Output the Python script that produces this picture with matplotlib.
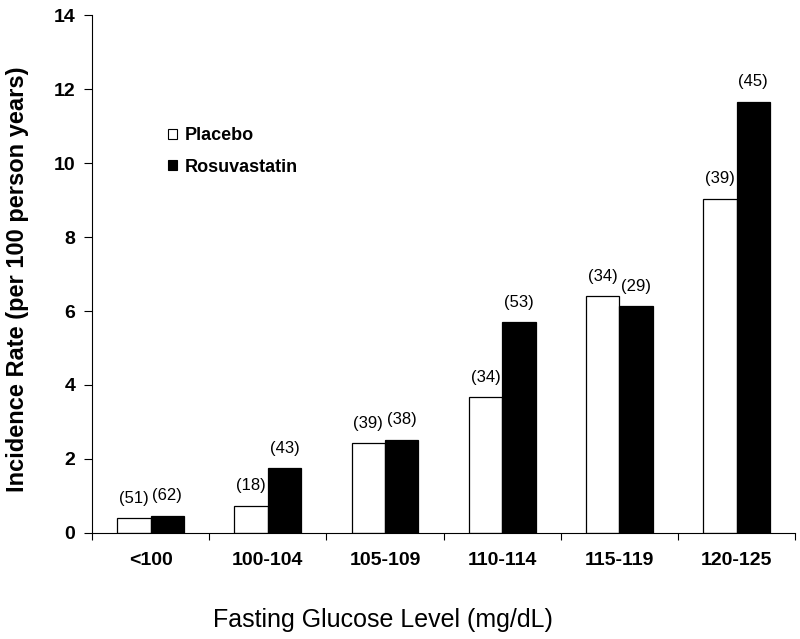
import numpy as np
import matplotlib
matplotlib.use('Agg')
import matplotlib.pyplot as plt
from matplotlib.patches import Patch

plt.rcParams['font.family'] = ['Liberation Sans', 'DejaVu Sans']

# data
categories = ['<100', '100-104', '105-109', '110-114', '115-119', '120-125']
placebo = [0.40, 0.73, 2.43, 3.67, 6.40, 9.03]
rosuvastatin = [0.46, 1.75, 2.52, 5.70, 6.13, 11.65]
placebo_n = ['(51)', '(18)', '(39)', '(34)', '(34)', '(39)']
rosuvastatin_n = ['(62)', '(43)', '(38)', '(53)', '(29)', '(45)']

fig = plt.figure(figsize=(8, 6.39), dpi=100)
ax = fig.add_axes([0.115, 0.1659, 0.879, 0.8106])

x = np.arange(len(categories))
w = 0.285
b1 = ax.bar(x - w / 2, placebo, w, color='white', edgecolor='black', linewidth=0.9, label='Placebo')
b2 = ax.bar(x + w / 2, rosuvastatin, w, color='black', edgecolor='black', linewidth=0.9, label='Rosuvastatin')

# counts above the bars
for bars, labels in [(b1, placebo_n), (b2, rosuvastatin_n)]:
    for r, lab in zip(bars, labels):
        ax.annotate(lab, (r.get_x() + r.get_width() / 2, r.get_height()),
                    xytext=(0, 9), textcoords='offset points',
                    ha='center', va='bottom', fontsize=12)

ax.set_xlim(-0.5, len(categories) - 0.5)
ax.set_ylim(0, 14)
ax.set_yticks(np.arange(0, 15, 2))
ax.set_yticklabels([str(v) for v in range(0, 15, 2)], fontsize=14, fontweight='bold')
ax.set_xticks(x)
ax.set_xticklabels(categories, fontsize=14, fontweight='bold')
ax.set_xticks(np.arange(-0.5, len(categories), 1), minor=True)
ax.tick_params(axis='x', which='major', length=0, pad=14)
ax.tick_params(axis='x', which='minor', length=5, width=0.8, direction='out')
ax.tick_params(axis='y', length=6, width=0.8, direction='out', pad=6)

for s in ['top', 'right']:
    ax.spines[s].set_visible(False)
for s in ['left', 'bottom']:
    ax.spines[s].set_linewidth(0.8)

fig.text(18 / 800, 1 - 279 / 639, 'Incidence Rate (per 100 person years)', rotation=90,
         ha='center', va='center', fontsize=17, fontweight='bold')
fig.text(383 / 800, 1 - 620 / 639, 'Fasting Glucose Level (mg/dL)',
         ha='center', va='center', fontsize=18)

handles = [Patch(facecolor='white', edgecolor='black', linewidth=0.8),
           Patch(facecolor='black', edgecolor='black', linewidth=0.8)]
ax.legend(handles, ['Placebo', 'Rosuvastatin'], loc='upper left',
          bbox_to_anchor=(0.085, 0.815), frameon=False, handlelength=0.5,
          handleheight=0.5, handletextpad=0.4, labelspacing=0.8,
          prop={'weight': 'bold', 'size': 13})

fig.savefig('out.png', dpi=100)
